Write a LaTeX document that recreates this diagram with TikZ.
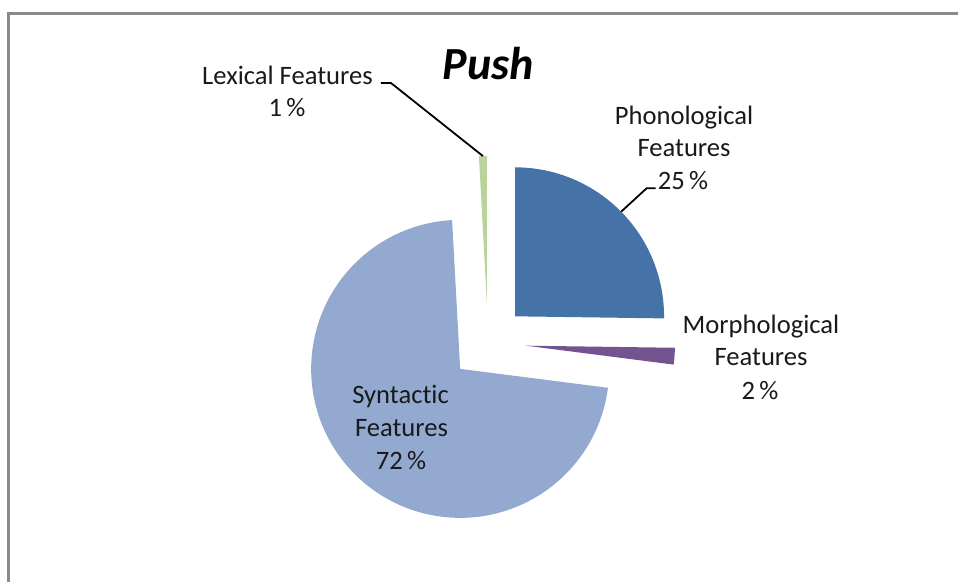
\documentclass[tikz,border=0pt]{standalone}
\usepackage{fontspec}
\setmainfont{Carlito}[Ligatures=NoCommon]
\usetikzlibrary{calc}
\definecolor{phono}{HTML}{4572A7}
\definecolor{morph}{HTML}{735491}
\definecolor{syntax}{HTML}{94A9D0}
\definecolor{lexis}{HTML}{B9D39A}
\definecolor{framegray}{HTML}{8A8A8A}
\tikzset{
    lbl/.style={anchor=base, inner sep=0pt, text=black!90, font=\fontsize{26.6}{32}\selectfont},
    leader/.style={draw=black, line width=1.8pt},
    frame/.style={draw=framegray, line width=3pt}
}
\begin{document}
\begin{tikzpicture}[x=1pt, y=1pt]
    \useasboundingbox (0, 0) rectangle (958, 581);
    \draw[frame] (966, 567.5) -- (8.3, 567.5) -- (8.3, -8);
    \coordinate (c) at (488, 238);
    % slices, clockwise from twelve o'clock, each pulled out along its middle
    \foreach \a/\b/\col in {90/-0.8/phono, -0.8/-7.3/morph, -7.3/-266.9/syntax, 93.1/90/lexis} {
        \fill[\col] (c) ++({(\a+\b)/2}:38) -- ++(\a:149) arc[start angle=\a, end angle=\b, radius=149] -- cycle;
        \coordinate (\col-tip) at ($(c)+({(\a+\b)/2}:187)$);
    }
    \node[anchor=base, inner sep=0pt, font=\bfseries\itshape\fontsize{46}{50}\selectfont] (title) at (488.4, 501) {Push};
    \path (287.5, 496) node[lbl] (lexname) {Lexical Features} (287, 464) node[lbl] (lexpct) {1\,\%}
        (684, 456.7) node[lbl] (phononame) {Phonological} (684, 424.3) node[lbl] (phonofeat) {Features} (683, 391.7) node[lbl] (phonopct) {25\,\%}
        (761, 247) node[lbl] (morphname) {Morphological} (761, 215) node[lbl] (morphfeat) {Features} (760, 181.7) node[lbl] (morphpct) {2\,\%}
        (400.5, 177.7) node[lbl] (syntaxname) {Syntactic} (401.5, 144.3) node[lbl] (syntaxfeat) {Features} (401, 111) node[lbl] (syntaxpct) {72\,\%};
    \draw[leader] ([shift={(8,2)}]lexname.base east) -- ++(10, 0) -- (lexis-tip);
    \draw[leader] ([shift={(-2,1)}]phonopct.base west) -- ++(-9, 0) -- (phono-tip);
\end{tikzpicture}
\end{document}
